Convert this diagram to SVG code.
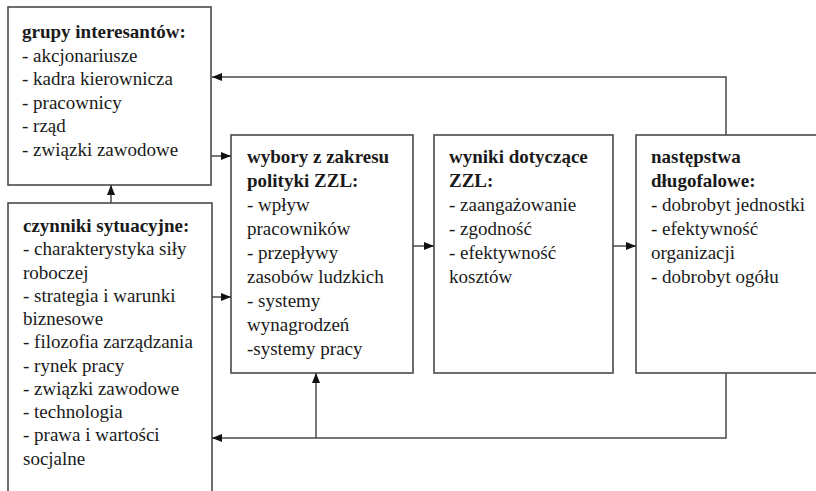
<svg xmlns="http://www.w3.org/2000/svg" width="816" height="491" viewBox="0 0 816 491">
<style>
.box{fill:#fff;stroke:#4a4a4a;stroke-width:1.6}
.c{fill:none;stroke:#4a4a4a;stroke-width:1.5}
</style>
<defs>
<marker id="ah" viewBox="0 0 10 10" refX="10" refY="5" markerWidth="10" markerHeight="10" markerUnits="userSpaceOnUse" orient="auto">
<path d="M0,1 L10,5 L0,9 Z" fill="#111"/>
</marker>
</defs>
<rect width="816" height="491" fill="#fff"/>
<g id="grupy">
<rect class="box" x="8" y="7" width="203" height="178"/>
<text x="22" y="38" font-family="Liberation Serif" font-size="19" font-weight="bold" fill="#1a1a1a">grupy interesantów:</text>
<text x="22" y="61.5" font-family="Liberation Serif" font-size="19" fill="#1a1a1a">- akcjonariusze</text>
<text x="22" y="85" font-family="Liberation Serif" font-size="19" fill="#1a1a1a">- kadra kierownicza</text>
<text x="22" y="108.5" font-family="Liberation Serif" font-size="19" fill="#1a1a1a">- pracownicy</text>
<text x="22" y="132" font-family="Liberation Serif" font-size="19" fill="#1a1a1a">- rząd</text>
<text x="22" y="155.5" font-family="Liberation Serif" font-size="19" fill="#1a1a1a">- związki zawodowe</text>
</g>
<g id="czynniki">
<rect class="box" x="8" y="203" width="204" height="300"/>
<text font-family="Liberation Serif" font-size="19" fill="#1a1a1a"><tspan font-weight="bold" x="23" y="232">czynniki sytuacyjne:</tspan><tspan x="23" y="255.3">- charakterystyka siły</tspan><tspan x="23" y="278.5">roboczej</tspan><tspan x="23" y="301.8">- strategia i warunki</tspan><tspan x="23" y="325">biznesowe</tspan><tspan x="23" y="348.3">- filozofia zarządzania</tspan><tspan x="23" y="371.5">- rynek pracy</tspan><tspan x="23" y="394.8">- związki zawodowe</tspan><tspan x="23" y="418">- technologia</tspan><tspan x="23" y="441.3">- prawa i wartości</tspan><tspan x="23" y="464.5">socjalne</tspan></text>
</g>
<g id="wybory">
<rect class="box" x="231" y="135" width="182" height="238"/>
<text style="font-family:'Times New Roman',serif;font-size:19px;fill:#1a1a1a"><tspan font-weight="bold" x="247" y="163">wybory z zakresu</tspan><tspan font-weight="bold" x="247" y="187">polityki ZZL:</tspan><tspan x="247" y="211">- wpływ</tspan><tspan x="247" y="235">pracowników</tspan><tspan x="247" y="259">- przepływy</tspan><tspan x="247" y="283">zasobów ludzkich</tspan><tspan x="247" y="307">- systemy</tspan><tspan x="247" y="331">wynagrodzeń</tspan><tspan x="247" y="355">-systemy pracy</tspan></text>
</g>
<g id="wyniki">
<rect class="box" x="434" y="135" width="179" height="238"/>
<text font-family="Liberation Serif" font-size="19" fill="#1a1a1a"><tspan font-family="Liberation Serif" font-weight="bold" x="449" y="163">wyniki dotyczące</tspan><tspan font-family="Liberation Serif" font-weight="bold" x="449" y="187">ZZL:</tspan><tspan font-family="Liberation Serif" x="449" y="211">- zaangażowanie</tspan><tspan font-family="Liberation Serif" x="449" y="235">- zgodność</tspan><tspan font-family="Liberation Serif" x="449" y="259">- efektywność</tspan><tspan font-family="Liberation Serif" x="449" y="283">kosztów</tspan></text>
</g>
<g id="nastepstwa">
<rect class="box" x="636" y="135" width="200" height="238"/>
<text font-family="serif" font-size="19" fill="#1a1a1a"><tspan font-weight="bold" x="651" y="163">następstwa</tspan><tspan font-weight="bold" x="651" y="187">długofalowe:</tspan><tspan x="651" y="211">- dobrobyt jednostki</tspan><tspan x="651" y="235">- efektywność</tspan><tspan x="651" y="259">organizacji</tspan><tspan x="651" y="283">- dobrobyt ogółu</tspan></text>
</g>
<g id="connectors">
<path class="c" d="M726,135 V77 H212" marker-end="url(#ah)"/>
<path class="c" d="M211,156 H231" marker-end="url(#ah)"/>
<path class="c" d="M111,203 V185" marker-end="url(#ah)"/>
<path class="c" d="M212,297 H231" marker-end="url(#ah)"/>
<path class="c" d="M413,246 H434" marker-end="url(#ah)"/>
<path class="c" d="M613,246 H636" marker-end="url(#ah)"/>
<path class="c" d="M726,373 V438 H212" marker-end="url(#ah)"/>
<path class="c" d="M316,438 V373" marker-end="url(#ah)"/>
</g>
</svg>
